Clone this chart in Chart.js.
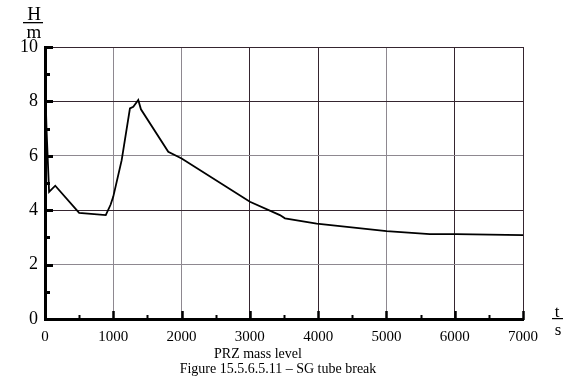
<!DOCTYPE html>
<html>
<head>
<meta charset="utf-8">
<script src="https://cdn.jsdelivr.net/npm/chart.js@4"></script>
<style>
html,body{margin:0;padding:0;background:#fff;}
#wrap{width:575px;height:379px;position:relative;}
</style>
</head>
<body>
<div id="wrap"><canvas id="c" width="575" height="379"></canvas></div>
<script>
const timeS = [0, 8, 22, 60, 150, 500, 890, 960, 1000, 1123, 1244, 1293, 1366, 1405, 1805, 2001, 3001, 3440, 3514, 3978, 5002, 5636, 6020, 7000];
const levelM = [8.4, 8.2, 7.0, 4.67, 4.9, 3.9, 3.82, 4.2, 4.5, 5.84, 7.74, 7.8, 8.05, 7.71, 6.15, 5.9, 4.31, 3.82, 3.7, 3.51, 3.23, 3.12, 3.12, 3.08];
const xTicks = [0, 1000, 2000, 3000, 4000, 5000, 6000, 7000];
const yTicks = [0, 2, 4, 6, 8, 10];
const xTitle = 'PRZ mass level';
const caption = 'Figure 15.5.6.5.11 – SG tube break';
const yUnitTop = 'H', yUnitBottom = 'm';
const xUnitTop = 't', xUnitBottom = 's';

const serif = '"Liberation Serif", "DejaVu Serif", serif';
const dark = '#35252f';
const gray = '#8e8890';
const yGridColors = {0: '#000', 2: gray, 4: dark, 6: gray, 8: dark, 10: dark};
const xGridColors = {0: '#000', 1000: gray, 2000: gray, 3000: dark, 4000: dark, 5000: gray, 6000: dark, 7000: dark};

const decor = {
  id: 'decor',
  beforeDraw(chart) {
    const ctx = chart.ctx;
    ctx.save();
    ctx.fillStyle = '#fff';
    ctx.fillRect(0, 0, chart.width, chart.height);
    ctx.restore();
  },
  afterDraw(chart) {
    const ctx = chart.ctx;
    const xs = chart.scales.x, ys = chart.scales.y;
    const L = chart.chartArea.left, B = chart.chartArea.bottom;
    ctx.save();
    ctx.strokeStyle = '#000';
    ctx.lineCap = 'butt';
    for (let v = 0; v <= 10; v++) {
      const py = Math.round(ys.getPixelForValue(v)) + 0.5;
      ctx.lineWidth = 3;
      ctx.beginPath();
      ctx.moveTo(L - 1, py);
      ctx.lineTo(L + (v % 2 === 0 ? 8 : 5), py);
      ctx.stroke();
    }
    for (let t = 0; t <= 7000; t += 500) {
      const px = Math.round(xs.getPixelForValue(t)) + 0.5;
      ctx.lineWidth = t % 1000 === 0 ? 2.5 : 2;
      ctx.beginPath();
      ctx.moveTo(px, B + 1);
      ctx.lineTo(px, B - (t % 1000 === 0 ? 8 : 4));
      ctx.stroke();
    }
    ctx.fillStyle = '#000';
    ctx.textAlign = 'center';
    ctx.textBaseline = 'alphabetic';
    ctx.font = '19px ' + serif;
    ctx.fillText(yUnitTop, 34, 20);
    ctx.fillRect(23, 22, 20, 1.3);
    ctx.fillText(yUnitBottom, 34, 38);
    ctx.font = '17px ' + serif;
    ctx.fillText(xUnitTop, 557, 317);
    ctx.fillRect(552, 318, 11, 1.2);
    ctx.fillText(xUnitBottom, 558, 335);
    ctx.font = '14px ' + serif;
    ctx.fillText(xTitle, 258, 358);
    ctx.fillText(caption, 278, 373);
    ctx.restore();
  }
};

new Chart(document.getElementById('c'), {
  type: 'line',
  data: {
    datasets: [{
      data: timeS.map((t, i) => ({x: t, y: levelM[i]})),
      borderColor: '#000',
      borderWidth: 1.8,
      pointRadius: 0,
      tension: 0,
      fill: false
    }]
  },
  options: {
    responsive: false,
    animation: false,
    devicePixelRatio: 1,
    layout: {padding: {top: 47, right: 52, left: 0, bottom: 0}},
    plugins: {legend: {display: false}, title: {display: false}, tooltip: {enabled: false}},
    scales: {
      x: {
        type: 'linear',
        min: 0, max: 7000,
        afterBuildTicks: s => { s.ticks = xTicks.map(v => ({value: v})); },
        afterFit: s => { s.height = 60; },
        ticks: {font: {family: serif, size: 15}, color: '#000', padding: 9, maxRotation: 0, autoSkip: false,
                callback: v => String(v)},
        grid: {drawTicks: false, color: c => xGridColors[c.tick.value] || dark, lineWidth: 1},
        border: {display: true, color: '#000', width: 3}
      },
      y: {
        type: 'linear',
        min: 0, max: 10,
        afterBuildTicks: s => { s.ticks = yTicks.map(v => ({value: v})); },
        afterFit: s => { s.width = 45; },
        ticks: {font: {family: serif, size: 18}, color: '#000', padding: 7, callback: v => String(v)},
        grid: {drawTicks: false, color: c => yGridColors[c.tick.value] || dark, lineWidth: 1},
        border: {display: true, color: '#000', width: 3}
      }
    }
  },
  plugins: [decor]
});
</script>
</body>
</html>
